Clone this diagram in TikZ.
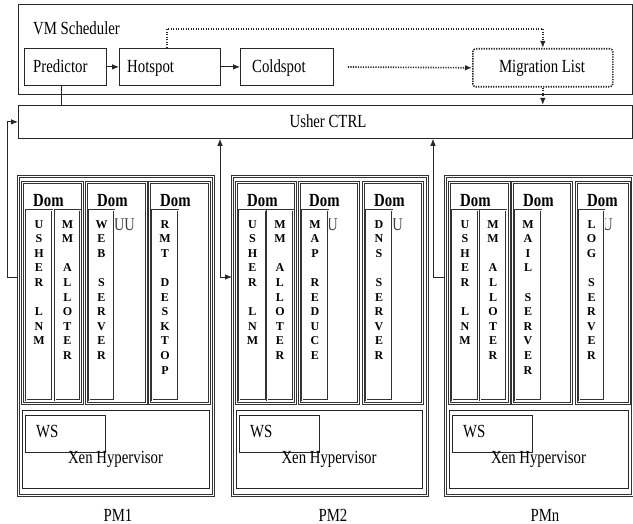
\documentclass[tikz,border=0pt]{standalone}
\usepackage{fontspec}
\setmainfont[FakeStretch=0.8]{Liberation Serif}
\newfontfamily\plainserif{Liberation Serif}
\usetikzlibrary{arrows.meta}
\newcommand\mkbox[6]{\node[#1, minimum width={#5-#3}, minimum height={#6-#4}, anchor=north west] (#2) at (#3,#4) {};}
\begin{document}
\begin{tikzpicture}[x=1pt,y=-1pt,
  font=\fontsize{18.5}{22}\selectfont,
  ln/.style={draw=black!85, line width=0.8pt},
  box/.style={ln, inner sep=0pt},
  dbl/.style={draw=black!80, line width=0.55pt, double=white, double distance=1.4pt, inner sep=0pt},
  app/.style={draw=black!80, line width=0.5pt, double=white, double distance=0.9pt, fill=white, inner sep=0pt},
  hyp/.style={draw=black!85, line width=1.1pt, inner sep=0pt},
  migbox/.style={draw=black!85, line width=1.6pt, dash pattern=on 1.3pt off 1.2pt, rounded corners=3pt, inner sep=0pt},
  txt/.style={inner sep=0pt, anchor=base west},
  ctxt/.style={inner sep=0pt, anchor=base},
  domt/.style={inner sep=0pt, anchor=base west, font=\bfseries\fontsize{18.5}{22}\selectfont},
  ufrag/.style={inner sep=0pt, anchor=base east, text=black!75, font=\fontsize{18}{22}\selectfont},
  vtxt/.style={inner sep=0pt, anchor=north, align=center, font=\plainserif\bfseries\fontsize{12}{14.6}\selectfont},
  tipA/.tip={Latex[length=7pt,width=5.5pt]},
  arr/.style={ln, -tipA},
  dots/.style={draw=black!85, line width=1.6pt, dash pattern=on 1.3pt off 1.2pt}
]
\useasboundingbox (0,0) rectangle (633,524);
\fill[white] (0,0) rectangle (633,524);

% ---------- VM scheduler ----------
\mkbox{box}{vms}{18}{4}{632}{94}
\node[txt] (vmst) at (33,35) {VM Scheduler};
\mkbox{box}{pred}{24}{48}{106}{85}
\mkbox{box}{hot}{119}{48}{220}{85}
\mkbox{box}{cold}{240}{48}{333}{85}
\mkbox{migbox}{mig}{472}{48}{612}{86}
\node[txt] (predt) at (33,72.7) {Predictor};
\node[txt] (hott) at (127,72.7) {Hotspot};
\node[txt] (coldt) at (252,72.7) {Coldspot};
\node[ctxt] (migt) at (542,72.7) {Migration List};

% ---------- Usher CTRL ----------
\mkbox{box}{usher}{18}{105}{632}{138}
\node[ctxt] (ushert) at (328,127.7) {Usher CTRL};

% ---------- PM1 ----------
\mkbox{dbl}{pmA}{18}{176}{213}{495}
\mkbox{dbl}{pmAd1}{22}{182}{82}{403}
\mkbox{dbl}{pmAd2}{86}{182}{146}{403}
\mkbox{dbl}{pmAd3}{149}{182}{209}{403}
\node[domt] (pmAt1) at (33,207) {Dom};
\node[domt] (pmAt2) at (97,207) {Dom};
\node[domt] (pmAt3) at (160,207) {Dom};
\node[ufrag] (pmAu) at (135,231) {UU};
\mkbox{app}{pmAa1}{26}{210}{52}{400}
\mkbox{app}{pmAa2}{55}{210}{80}{400}
\mkbox{app}{pmAa3}{89}{210}{114}{400}
\mkbox{app}{pmAa4}{152}{210}{178}{400}
\node[vtxt] (pmAl1) at (39,220) {U\\S\\H\\E\\R\\\mbox{}\\L\\N\\M};
\node[vtxt] (pmAl2) at (67.5,220) {M\\M\\\mbox{}\\A\\L\\L\\O\\T\\E\\R};
\node[vtxt] (pmAl3) at (101.5,220) {W\\E\\B\\\mbox{}\\S\\E\\R\\V\\E\\R};
\node[vtxt] (pmAl4) at (165,220) {R\\M\\T\\\mbox{}\\D\\E\\S\\K\\T\\O\\P};
\mkbox{hyp}{pmAh}{22}{410}{209}{488}
\mkbox{box}{pmAw}{25}{415}{105}{452}
\node[txt] (pmAwt) at (36,438) {WS};
\node[ctxt] (pmAx) at (115.5,464) {Xen Hypervisor};
\node[ctxt] (pmAn) at (118,521) {PM1};

% ---------- PM2 ----------
\mkbox{dbl}{pmB}{232}{176}{427}{495}
\mkbox{dbl}{pmBd1}{236}{182}{295}{403}
\mkbox{dbl}{pmBd2}{299}{182}{358}{403}
\mkbox{dbl}{pmBd3}{363}{182}{422}{403}
\node[domt] (pmBt1) at (247,207) {Dom};
\node[domt] (pmBt2) at (309,207) {Dom};
\node[domt] (pmBt3) at (374,207) {Dom};
\node[ufrag] (pmBu1) at (338,231) {U};
\node[ufrag] (pmBu2) at (403,231) {U};
\mkbox{app}{pmBa1}{239}{210}{266}{400}
\mkbox{app}{pmBa2}{267}{210}{293}{400}
\mkbox{app}{pmBa3}{302}{210}{328}{400}
\mkbox{app}{pmBa4}{366}{210}{392}{400}
\node[vtxt] (pmBl1) at (252.5,220) {U\\S\\H\\E\\R\\\mbox{}\\L\\N\\M};
\node[vtxt] (pmBl2) at (280,220) {M\\M\\\mbox{}\\A\\L\\L\\O\\T\\E\\R};
\node[vtxt] (pmBl3) at (315,220) {M\\A\\P\\\mbox{}\\R\\E\\D\\U\\C\\E};
\node[vtxt] (pmBl4) at (379,220) {D\\N\\S\\\mbox{}\\S\\E\\R\\V\\E\\R};
\mkbox{hyp}{pmBh}{236}{410}{422}{488}
\mkbox{box}{pmBw}{239}{415}{319}{452}
\node[txt] (pmBwt) at (250,438) {WS};
\node[ctxt] (pmBx) at (329,464) {Xen Hypervisor};
\node[ctxt] (pmBn) at (333,521) {PM2};

% ---------- PMn ----------
\mkbox{dbl}{pmC}{445}{176}{632}{495}
\mkbox{dbl}{pmCd1}{449}{182}{509}{403}
\mkbox{dbl}{pmCd2}{512}{182}{571}{403}
\mkbox{dbl}{pmCd3}{576}{182}{629}{403}
\node[domt] (pmCt1) at (460,207) {Dom};
\node[domt] (pmCt2) at (523,207) {Dom};
\node[domt] (pmCt3) at (587,207) {Dom};
\node[ufrag] (pmCu) at (613,231) {U};
\mkbox{app}{pmCa1}{452}{210}{478}{400}
\mkbox{app}{pmCa2}{480}{210}{506}{400}
\mkbox{app}{pmCa3}{515}{210}{541}{400}
\mkbox{app}{pmCa4}{579}{210}{604}{400}
\node[vtxt] (pmCl1) at (465,220) {U\\S\\H\\E\\R\\\mbox{}\\L\\N\\M};
\node[vtxt] (pmCl2) at (493,220) {M\\M\\\mbox{}\\A\\L\\L\\O\\T\\E\\R};
\node[vtxt] (pmCl3) at (528,220) {M\\A\\I\\L\\\mbox{}\\S\\E\\R\\V\\E\\R};
\node[vtxt] (pmCl4) at (591.5,220) {L\\O\\G\\\mbox{}\\S\\E\\R\\V\\E\\R};
\mkbox{hyp}{pmCh}{449}{410}{628}{488}
\mkbox{box}{pmCw}{452}{415}{532}{452}
\node[txt] (pmCwt) at (463,438) {WS};
\node[ctxt] (pmCx) at (538.5,464) {Xen Hypervisor};
\node[ctxt] (pmCn) at (545,521) {PMn};

% ---------- connectors ----------
\draw[arr] (pred.east) -- (hot.west);
\draw[arr] (hot.east) -- (cold.west);
\draw[dots, -tipA, shorten <=14pt] (cold.east) -- (mig.west);
\coordinate (hotup) at (167,29);
\draw[dots, -tipA] (hotup |- hot.north) -- (hotup) -| (mig.north);
\draw[dots, -tipA] (mig.south) -- (mig.south |- usher.north);
\coordinate (predx) at (61,0);
\draw[ln] (predx |- pred.south) -- (predx |- usher.north);
\coordinate (lp) at (7,277);
\draw[arr] (pmA.west |- lp) -- (lp) |- (usher.west);
\coordinate (c2) at (220,277);
\draw[ln, tipA-tipA] (usher.south -| c2) -- (c2) -- (pmB.west |- c2);
\coordinate (c3) at (433,277);
\draw[ln, tipA-] (usher.south -| c3) -- (c3) -- (pmC.west |- c3);
\end{tikzpicture}
\end{document}
